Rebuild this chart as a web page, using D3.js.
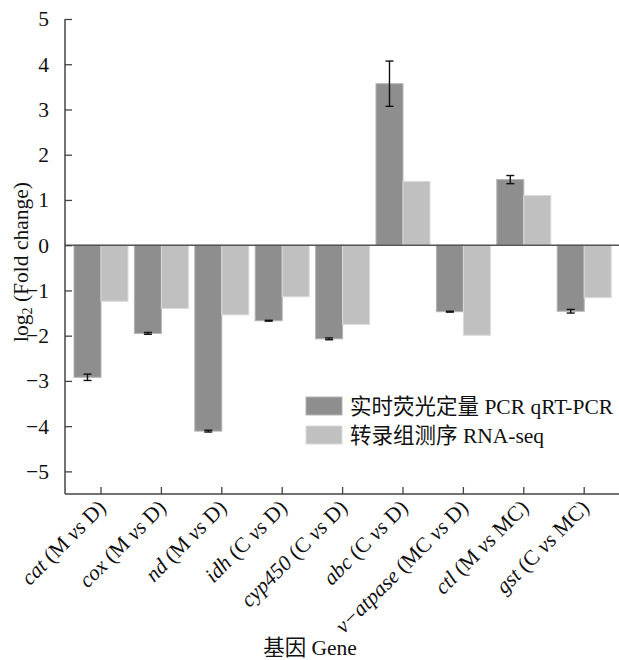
<!DOCTYPE html>
<html>
<head>
<meta charset="utf-8">
<script src="https://cdn.jsdelivr.net/npm/d3@7"></script>
<style>
  html, body { margin: 0; padding: 0; background: #fff; }
  svg text { font-family: "Liberation Serif", "Times New Roman", "Noto Sans CJK SC", serif; fill: #111; }
</style>
</head>
<body>
<svg id="chart" width="619" height="660"></svg>
<script>
// Genes and the sample comparison for each one
const genes = ["cat", "cox", "nd", "idh", "cyp450", "abc", "v\u2212atpase", "ctl", "gst"];
const comparisons = [["M", "D"], ["M", "D"], ["M", "D"], ["C", "D"], ["C", "D"], ["C", "D"], ["MC", "D"], ["M", "MC"], ["C", "MC"]];
// log2 fold change, qRT-PCR (mean and error) and RNA-seq
const qrtValues = [-2.92, -1.95, -4.11, -1.67, -2.07, 3.57, -1.47, 1.45, -1.46];
const qrtErrors = [0.07, 0.02, 0.02, 0.01, 0.02, 0.50, 0.01, 0.09, 0.04];
const rnaValues = [-1.24, -1.40, -1.54, -1.14, -1.75, 1.41, -1.99, 1.10, -1.16];
const seriesNames = ["实时荧光定量 PCR qRT-PCR", "转录组测序 RNA-seq"];
const yTicks = [5, 4, 3, 2, 1, 0, -1, -2, -3, -4, -5];

const svg = d3.select("#chart");
const fillDark = "#8e8e8e", strokeDark = "#b4b4b4";
const fillLight = "#c0c0c0", strokeLight = "#dadada";
const fs = 21.5;

const y = d3.scaleLinear().domain([-5.5, 5]).range([494, 19]);
const x = d3.scaleBand().domain(genes).range([70.8, 614.4]).paddingInner(0).paddingOuter(0);
const xs = d3.scaleBand().domain(["qrt", "rna"]).range([0, x.bandwidth()]).paddingInner(0).paddingOuter(0.118);

const rows = genes.map((g, i) => ({ gene: g, qrt: qrtValues[i], err: qrtErrors[i], rna: rnaValues[i] }));

// Bars
const groups = svg.append("g").selectAll("g").data(rows).join("g")
  .attr("transform", d => `translate(${x(d.gene)},0)`);

groups.append("rect")
  .attr("x", xs("qrt")).attr("width", xs.bandwidth())
  .attr("y", d => y(Math.max(0, d.qrt))).attr("height", d => Math.abs(y(d.qrt) - y(0)))
  .attr("fill", fillDark).attr("stroke", strokeDark).attr("stroke-width", 1);

groups.append("rect")
  .attr("x", xs("rna")).attr("width", xs.bandwidth())
  .attr("y", d => y(Math.max(0, d.rna))).attr("height", d => Math.abs(y(d.rna) - y(0)))
  .attr("fill", fillLight).attr("stroke", strokeLight).attr("stroke-width", 1);

// Error bars on qRT-PCR
const eb = groups.append("g").attr("stroke", "#111").attr("stroke-width", 1.4);
const cx = xs("qrt") + xs.bandwidth() / 2;
eb.append("line").attr("x1", cx).attr("x2", cx)
  .attr("y1", d => y(d.qrt + d.err)).attr("y2", d => y(d.qrt - d.err));
eb.append("line").attr("x1", cx - 4).attr("x2", cx + 4)
  .attr("y1", d => y(d.qrt + d.err)).attr("y2", d => y(d.qrt + d.err));
eb.append("line").attr("x1", cx - 4).attr("x2", cx + 4)
  .attr("y1", d => y(d.qrt - d.err)).attr("y2", d => y(d.qrt - d.err));

// Zero line
svg.append("line").attr("x1", 65).attr("x2", 619).attr("y1", y(0)).attr("y2", y(0))
  .attr("stroke", "#555").attr("stroke-width", 1.5);

// Y axis
const yAxis = svg.append("g").attr("transform", "translate(65,0)")
  .call(d3.axisLeft(y).tickValues(yTicks).tickSizeInner(-7).tickSizeOuter(0).tickPadding(16)
    .tickFormat(d => d < 0 ? "\u2212" + Math.abs(d) : String(d)));
yAxis.select(".domain").attr("stroke", "#444").attr("stroke-width", 1.5).attr("d", `M0,${y(5)}V494`);
yAxis.selectAll(".tick line").attr("stroke", "#444").attr("stroke-width", 1.3);
yAxis.selectAll(".tick text").attr("font-size", fs).attr("fill", "#111");

// X axis
const xAxis = svg.append("g").attr("transform", "translate(0,494)")
  .call(d3.axisBottom(x).tickSizeInner(-7).tickSizeOuter(0).tickFormat(""));
xAxis.select(".domain").attr("stroke", "#444").attr("stroke-width", 1.5).attr("d", "M65,0H619");
xAxis.selectAll(".tick line").attr("stroke", "#444").attr("stroke-width", 1.3);

// Rotated category labels: italic gene name, then (A vs B)
const lbl = svg.append("g").selectAll("text").data(rows).join("text")
  .attr("transform", d => `translate(${x(d.gene) + x.bandwidth() / 2 + 6},${509}) rotate(-45)`)
  .attr("text-anchor", "end")
  .attr("font-size", fs);
lbl.each(function (d, i) {
  const t = d3.select(this);
  t.append("tspan").attr("font-style", "italic").text(d.gene);
  t.append("tspan").text(" (" + comparisons[i][0] + " ");
  t.append("tspan").attr("font-style", "italic").text("vs");
  t.append("tspan").text(" " + comparisons[i][1] + ")");
});

// Axis titles
const yt = svg.append("text").attr("transform", "translate(28,262) rotate(-90)")
  .attr("text-anchor", "middle").attr("font-size", fs);
yt.append("tspan").text("log");
yt.append("tspan").attr("font-size", 14).attr("dy", 4).text("2");
yt.append("tspan").attr("dy", -4).text(" (Fold change)");

svg.append("text").attr("x", 310).attr("y", 655).attr("text-anchor", "middle")
  .attr("font-size", fs).text("基因 Gene");

// Legend
const legend = svg.append("g").attr("transform", "translate(306,397)");
[fillDark, fillLight].forEach((c, i) => {
  const row = legend.append("g").attr("transform", `translate(0,${i * 29})`);
  row.append("rect").attr("width", 36).attr("height", 18).attr("fill", c)
    .attr("stroke", i === 0 ? strokeDark : strokeLight).attr("stroke-width", 1);
  row.append("text").attr("x", 44).attr("y", 16.5).attr("font-size", fs).text(seriesNames[i]);
});
</script>
</body>
</html>
